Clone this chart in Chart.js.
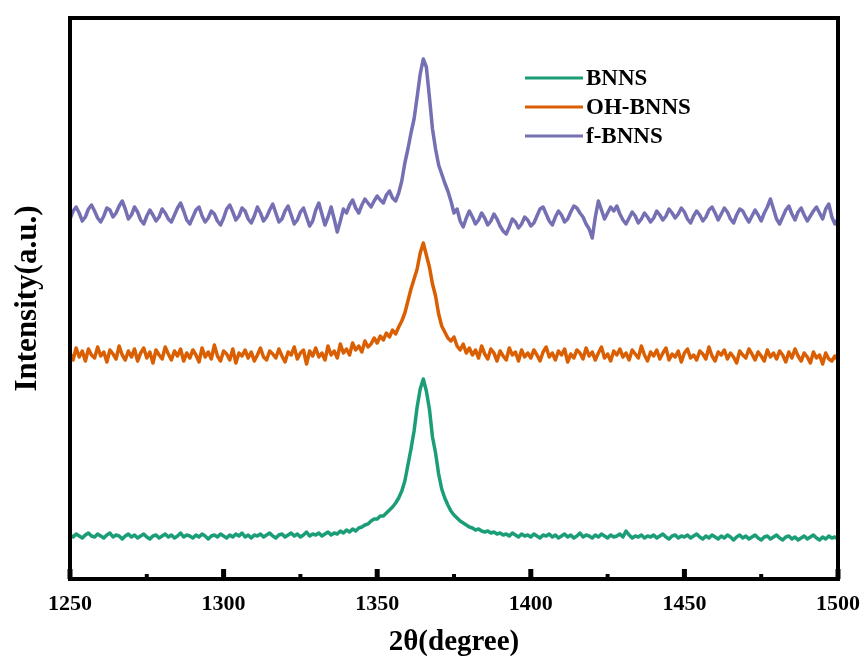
<!DOCTYPE html>
<html>
<head>
<meta charset="utf-8">
<title>Raman spectra of BNNS samples</title>
<script src="https://cdn.jsdelivr.net/npm/chart.js@4.4.0/dist/chart.umd.min.js"></script>
<style>
  html, body { margin: 0; padding: 0; background: #fff; }
  #chart { display: block; }
</style>
</head>
<body>
<canvas id="chart" width="866" height="664"></canvas>
<script>
// sampling grid, 1 unit steps
var twoTheta = [];
for (var t = 1250; t <= 1500; t++) twoTheta.push(t);

var seriesNames = ['BNNS', 'OH-BNNS', 'f-BNNS'];
var seriesColors = ['#1b9e77', '#d95f02', '#7570b3'];
var xTicks = [1250, 1300, 1350, 1400, 1450, 1500];
var xMinorTicks = [1275, 1325, 1375, 1425, 1475];

// intensities, curves already stacked with vertical offsets
var bnns = [
  44, 42, 45, 43, 41, 44, 46, 43, 42, 45,
  43, 41, 44, 46, 42, 44, 43, 40, 43, 45,
  42, 44, 41, 43, 45, 42, 40, 43, 44, 41,
  43, 45, 42, 44, 41, 43, 46, 42, 44, 43,
  41, 44, 42, 45, 43, 40, 43, 44, 42, 45,
  43, 41, 44, 42, 45, 43, 46, 42, 44, 41,
  44, 43, 45, 42, 44, 46, 43, 41, 44, 45,
  42, 44, 46, 43, 45, 42, 44, 47, 43, 45,
  44, 46, 43, 45, 47, 44, 46, 45, 48, 46,
  49, 47, 50, 48, 51, 52, 54, 55, 58, 60,
  60, 63, 63, 66, 69, 72, 76, 81, 88, 98,
  114, 130, 148, 172, 190, 200, 188, 170, 142, 126,
  105, 90, 81, 74, 68, 64, 61, 58, 56, 54,
  52, 51, 49, 50, 48, 47, 48, 46, 47, 45,
  46, 44, 45, 43, 46, 44, 42, 45, 43, 44,
  42, 45, 43, 41, 44, 43, 45, 42, 44, 41,
  43, 45, 42, 44, 41, 43, 46, 42, 44, 43,
  41, 44, 42, 45, 43, 41, 44, 42, 43, 45,
  42, 48, 44, 41, 43, 42, 44, 41, 43, 42,
  44, 41, 43, 45, 42, 40, 43, 44, 41, 43,
  42, 44, 41, 43, 45, 42, 40, 43, 41, 44,
  42, 40, 43, 41, 44, 42, 39, 42, 44, 41,
  43, 40, 42, 44, 41, 39, 42, 43, 40, 42,
  44, 41, 39, 42, 43, 40, 42, 39, 41, 43,
  40, 42, 44, 41, 39, 42, 40, 43, 41, 42,
  40
];

var ohBnns = [
  226, 219, 231, 222, 228, 218, 230, 224, 221, 232,
  223, 227, 217, 229, 225, 220, 233, 224, 219, 228,
  222, 230, 218, 226, 231, 221, 227, 216, 229, 224,
  220, 232, 225, 219, 228, 223, 230, 218, 226, 221,
  229, 224, 217, 231, 222, 227, 220, 234, 223, 218,
  228, 225, 219, 230, 216, 226, 223, 229, 221, 227,
  218, 224, 231, 222, 219, 228, 225, 221, 230, 223,
  217, 227, 224, 232, 220, 226, 229, 215, 228, 223,
  231, 222, 226, 219, 233, 224, 228, 221, 235, 226,
  230, 224, 236, 229, 233, 227, 238, 232, 235, 241,
  236, 243, 239, 246, 242, 249, 245, 252, 258, 266,
  278, 290, 300, 310, 326, 336, 324, 312, 295, 283,
  265, 253, 247, 241, 238, 242, 233, 229, 235, 226,
  231, 224, 229, 221, 233, 225, 220, 230, 226, 218,
  228, 223, 219, 231, 224, 227, 218, 229, 222, 226,
  221, 229, 224, 218, 227, 232, 222, 226, 219, 228,
  224, 230, 217, 225, 221, 229, 226, 220, 231, 223,
  227, 219, 226, 232, 221, 225, 218, 228, 224, 230,
  222, 226, 219, 229, 225, 221, 233, 224, 218, 227,
  223, 229, 220, 226, 231, 219, 225, 222, 228, 217,
  226, 230, 221, 224, 219, 228, 225, 220, 232, 223,
  218, 227, 224, 229, 220, 226, 222, 216, 228, 224,
  221, 230, 225, 219, 227, 223, 218, 229, 222, 226,
  220, 228, 224, 217, 227, 221, 230, 223, 218, 226,
  222, 216, 227, 221, 224, 215, 226, 220, 218, 223,
  219
];

var fBnns = [
  360, 368, 372, 366, 358, 362, 370, 374, 368, 361,
  357, 363, 371, 369, 362, 366, 373, 378, 370, 360,
  364, 372, 367, 359, 355, 363, 369, 364, 358, 362,
  370, 366, 360, 357, 364, 371, 376, 368, 359, 355,
  362, 369, 372, 363, 357, 361, 368, 365, 358, 354,
  361, 370, 374, 367, 359, 363, 371, 368, 360, 356,
  363, 372, 366, 358, 362, 369, 375, 366, 357, 360,
  368, 373, 364, 355, 359, 367, 371, 362, 353, 358,
  369, 376, 365, 354, 362, 372, 360, 347, 358, 370,
  366, 374, 379, 371, 366, 374, 380, 376, 372, 378,
  383, 379, 376, 384, 388, 381, 378, 386, 398, 416,
  430, 446, 460, 482, 505, 520, 512, 482, 450, 430,
  414, 405, 396, 388, 378, 366, 370, 358, 352, 361,
  368, 362, 355, 359, 366, 361, 354, 358, 365, 360,
  353, 348, 345, 352, 360, 357, 351, 355, 362, 359,
  353, 356, 363, 370, 372, 365, 358, 354, 362, 368,
  364, 357, 360, 367, 373, 371, 366, 362, 355, 350,
  341, 362, 378, 369, 360, 366, 372, 368, 373, 365,
  359, 355, 361, 367, 363, 356, 360, 366, 362, 357,
  361, 368, 364, 359, 363, 370, 366, 361, 365, 371,
  367, 360, 356, 363, 368, 364, 358, 362, 369, 372,
  366, 359, 365, 371, 367, 360, 356, 364, 370, 368,
  362, 357, 363, 369, 364, 358, 366, 372, 380, 370,
  360, 355, 362, 369, 373, 365, 359, 367, 371, 364,
  358, 363, 368, 372, 366, 360, 370, 375, 362, 355,
  360
];

var serif = "'Liberation Serif', 'Times New Roman', serif";

function toPoints(values) {
  return values.map(function (v, i) { return { x: twoTheta[i], y: v }; });
}

var allSeries = [bnns, ohBnns, fBnns];
var datasets = allSeries.map(function (values, i) {
  return {
    label: seriesNames[i],
    data: toPoints(values),
    borderColor: seriesColors[i],
    borderWidth: 3.5,
    borderJoinStyle: 'round',
    pointRadius: 0,
    tension: 0,
    fill: false
  };
});

// thick box around the plot, inward ticks on the bottom edge, legend in the corner
var framePlugin = {
  id: 'frame',
  afterDraw: function (chart) {
    var ctx = chart.ctx;
    var area = chart.chartArea;
    var xScale = chart.scales.x;
    ctx.save();
    ctx.strokeStyle = '#000';
    ctx.lineWidth = 4;
    ctx.strokeRect(area.left, area.top, area.right - area.left, area.bottom - area.top);

    ctx.lineWidth = 5;
    xTicks.forEach(function (v) {
      var px = xScale.getPixelForValue(v);
      ctx.beginPath();
      ctx.moveTo(px, area.bottom);
      ctx.lineTo(px, area.bottom - 10);
      ctx.stroke();
    });
    ctx.lineWidth = 4;
    xMinorTicks.forEach(function (v) {
      var px = xScale.getPixelForValue(v);
      ctx.beginPath();
      ctx.moveTo(px, area.bottom);
      ctx.lineTo(px, area.bottom - 5);
      ctx.stroke();
    });

    // legend
    var lx = 525, ly = 78, rowGap = 29;
    ctx.font = 'bold 23px ' + serif;
    ctx.textBaseline = 'middle';
    ctx.fillStyle = '#000';
    seriesNames.forEach(function (name, i) {
      var y = ly + i * rowGap;
      ctx.strokeStyle = seriesColors[i];
      ctx.lineWidth = 3;
      ctx.beginPath();
      ctx.moveTo(lx, y);
      ctx.lineTo(lx + 58, y);
      ctx.stroke();
      ctx.fillText(name, lx + 61, y + 1);
    });
    ctx.restore();
  }
};

new Chart(document.getElementById('chart'), {
  type: 'line',
  data: { datasets: datasets },
  options: {
    responsive: false,
    animation: false,
    layout: { padding: { top: 18, right: 28, bottom: 0, left: 0 } },
    plugins: {
      legend: { display: false },
      tooltip: { enabled: false }
    },
    scales: {
      x: {
        type: 'linear',
        min: 1250,
        max: 1500,
        afterBuildTicks: function (scale) {
          scale.ticks = xTicks.map(function (v) { return { value: v }; });
        },
        afterFit: function (scale) {
          scale.height = 85;
          scale.paddingLeft = 0;
          scale.paddingRight = 0;
        },
        grid: { display: false, drawTicks: false },
        border: { display: false },
        ticks: {
          color: '#000',
          padding: 12,
          maxRotation: 0,
          callback: function (v) { return String(v); },
          font: { family: serif, size: 22, weight: 'bold' }
        },
        title: {
          display: true,
          text: '2θ(degree)',
          color: '#000',
          padding: { top: 0, bottom: 4 },
          font: { family: serif, size: 29, weight: 'bold' }
        }
      },
      y: {
        min: 0,
        max: 561,
        afterFit: function (scale) { scale.width = 70; },
        grid: { display: false, drawTicks: false },
        border: { display: false },
        ticks: { display: false },
        title: {
          display: true,
          text: 'Intensity(a.u.)',
          color: '#000',
          padding: { top: 9, bottom: 0 },
          font: { family: serif, size: 31, weight: 'bold' }
        }
      }
    }
  },
  plugins: [framePlugin]
});
</script>
</body>
</html>
